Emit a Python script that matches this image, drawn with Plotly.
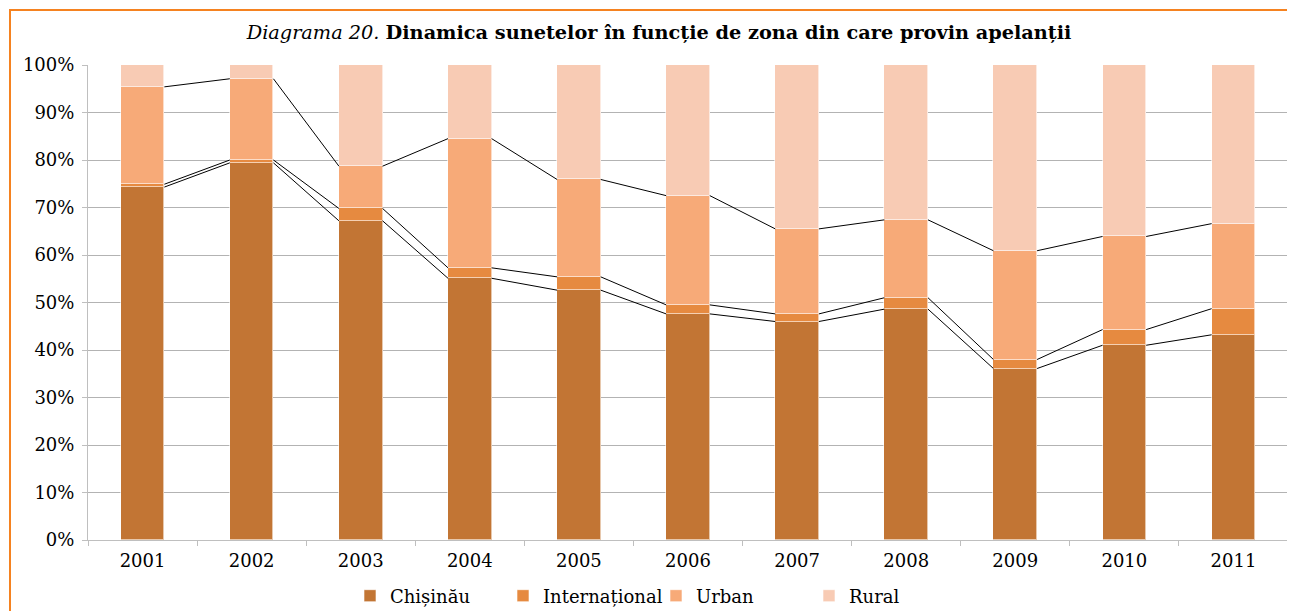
import plotly.graph_objects as go

years = ["2001", "2002", "2003", "2004", "2005", "2006", "2007", "2008", "2009", "2010", "2011"]
# segment shares (percent)
chisinau = [74.3, 79.4, 67.2, 55.1, 52.6, 47.6, 46.0, 48.6, 36.1, 41.0, 43.2]
international = [0.6, 0.6, 2.6, 2.2, 2.8, 1.9, 1.6, 2.4, 1.9, 3.3, 5.5]
urban = [20.5, 17.1, 8.9, 27.2, 20.5, 23.0, 17.9, 16.4, 22.9, 19.6, 17.9]
rural = [round(100 - c - i - u, 1) for c, i, u in zip(chisinau, international, urban)]

names = ["Chișinău", "Internațional", "Urban", "Rural"]
colors = ["#C27534", "#E68A40", "#F7AA78", "#F8CBB4"]
series = [chisinau, international, urban, rural]

FONT = "DejaVu Serif"
BAR_W = 0.4
xs = list(range(len(years)))

fig = go.Figure()
for name, col, vals in zip(names, colors, series):
    fig.add_trace(go.Bar(
        x=xs, y=vals, name=name, width=BAR_W,
        marker=dict(color=col, line=dict(color="rgba(255,255,255,0.6)", width=1)),
    ))

# series lines connecting stack boundaries between bars
cum = [0.0] * len(years)
for vals in series[:3]:
    cum = [a + b for a, b in zip(cum, vals)]
    lx, ly = [], []
    for i in range(len(years) - 1):
        lx += [xs[i] + BAR_W / 2, xs[i + 1] - BAR_W / 2, None]
        ly += [cum[i], cum[i + 1], None]
    fig.add_trace(go.Scatter(x=lx, y=ly, mode="lines", line=dict(color="black", width=1),
                             showlegend=False, hoverinfo="skip"))

# page has an 8px body margin: figure placed at (8,8)
W, H = 1287, 603
ml, mr, mt, mb = 80, 7, 57, 71
pw, ph = W - ml - mr, H - mt - mb

fig.update_layout(
    width=W, height=H,
    margin=dict(l=ml, r=mr, t=mt, b=mb, autoexpand=False),
    barmode="stack",
    bargap=0,
    plot_bgcolor="white", paper_bgcolor="white",
    font=dict(family=FONT, size=18, color="black"),
    title=dict(
        text="<i>Diagrama 20.</i> <b>Dinamica sunetelor în funcție de zona din care provin apelanții</b>",
        x=(659 - 8) / W, xanchor="center", y=1 - 24 / H, yanchor="middle",
        font=dict(family=FONT, size=19.3, color="black"),
    ),
    legend=dict(
        orientation="h", x=(342 - ml) / pw, xanchor="left", y=-(588 - (H - mb)) / ph, yanchor="middle",
        font=dict(family=FONT, size=18), itemwidth=30, traceorder="normal", entrywidth=108,
    ),
    shapes=[dict(type="rect", xref="paper", yref="paper",
                 x0=(2 - ml) / pw, x1=1 + 20 / pw, y0=-(mb + 20) / ph, y1=1 + (mt - 2) / ph,
                 line=dict(color="#F58220", width=2), fillcolor="rgba(0,0,0,0)", layer="below")],
)
fig.update_xaxes(
    range=[-0.5, len(years) - 0.5], tickvals=xs, ticktext=years, ticks="",
    showgrid=False, zeroline=False, showline=True, linecolor="#BFBFBF", linewidth=1,
    minor=dict(tickvals=[i - 0.5 for i in range(len(years) + 1)], ticks="outside", ticklen=5,
               tickcolor="#BFBFBF", showgrid=False),
    tickfont=dict(family=FONT, size=18), ticklabelstandoff=4,
)
fig.update_yaxes(
    range=[0, 100], dtick=10, ticksuffix="%", ticks="outside", ticklen=5, tickcolor="#BFBFBF",
    showgrid=True, gridcolor="#B3B3B3", gridwidth=1, zeroline=False,
    showline=True, linecolor="#BFBFBF", linewidth=1,
    tickfont=dict(family=FONT, size=18), ticklabelstandoff=4,
)

fig.write_html("out.html")
